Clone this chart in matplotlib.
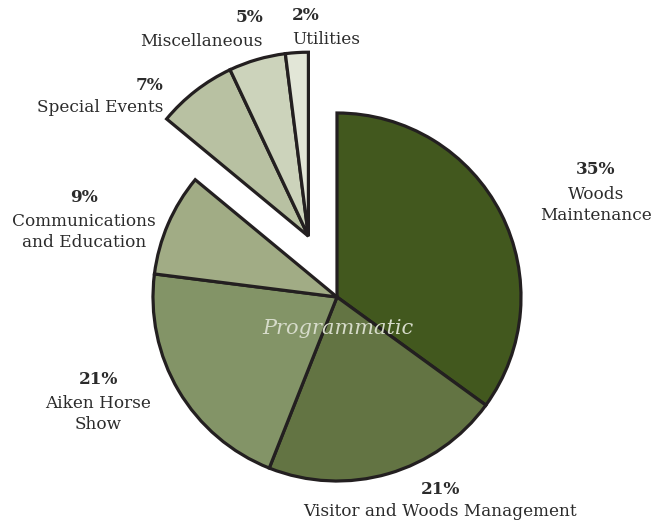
import numpy as np
import matplotlib.pyplot as plt

# ---- data ----
categories = ['Woods\nMaintenance', 'Visitor and Woods Management', 'Aiken Horse\nShow',
              'Communications\nand Education', 'Special Events', 'Miscellaneous', 'Utilities']
shares = [35, 21, 21, 9, 7, 5, 2]
colors = ['#42581e', '#637443', '#839467', '#a1ac85', '#b8c1a2', '#ccd3bb', '#e2e6d7']
n_main = 4  # first four wedges stay in place, the rest are pulled out together

W, H = 651, 523
fig = plt.figure(figsize=(W / 100, H / 100), dpi=100)
ax = fig.add_axes([0, 0, 1, 1])

cx, cy = 337, H - 297
R = 184
edge = dict(edgecolor='#231f20', linewidth=2.3)

# main group
main_cols = colors[:n_main] + ['none'] * (len(shares) - n_main)
wedges, _ = ax.pie(shares, colors=main_cols, startangle=90, counterclock=False,
                   radius=R, center=(cx, cy), wedgeprops=edge, frame=True)
for w in wedges[n_main:]:
    w.set_visible(False)

# exploded group: shifted along its own mid angle
total = float(sum(shares))
mid = np.deg2rad(90 - 360 * (sum(shares[:n_main]) + sum(shares[n_main:]) / 2) / total)
off = 0.365 * R
ex_cols = ['none'] * n_main + colors[n_main:]
wedges2, _ = ax.pie(shares, colors=ex_cols, startangle=90, counterclock=False,
                    radius=R, center=(cx + off * np.cos(mid), cy + off * np.sin(mid)),
                    wedgeprops=edge, frame=True)
for w in wedges2[:n_main]:
    w.set_visible(False)

ax.set_xlim(0, W)
ax.set_ylim(0, H)
ax.set_aspect('equal')
ax.axis('off')

# ---- labels ----
fam = 'DejaVu Serif'
tc = '#2b2b2b'
fs = 12.2
labels_pos = [  # (x, y_pct, y_name, ha)
    (596, 170, 205, 'center'),
    (440, 490, 512, 'center'),
    (98, 379, 414, 'center'),
    (84, 197, 232, 'center'),
    (163, 86, 108, 'right'),
    (263, 17, 42, 'right'),
    (292, 15, 40, 'left'),
]
for name, s, (x, yp, yn, ha) in zip(categories, shares, labels_pos):
    ax.text(x, H - yp, f'{s}%', ha=ha, va='center', fontsize=fs, fontweight='bold',
            family=fam, color=tc)
    ax.text(x, H - yn, name, ha=ha, va='center', fontsize=fs, family=fam, color=tc,
            multialignment='center', linespacing=1.3)

ax.text(cx + 1, H - 328, 'Programmatic', ha='center', va='center', fontsize=15,
        style='italic', family=fam, color='#d6dbca')

fig.savefig('out.png', dpi=100)
